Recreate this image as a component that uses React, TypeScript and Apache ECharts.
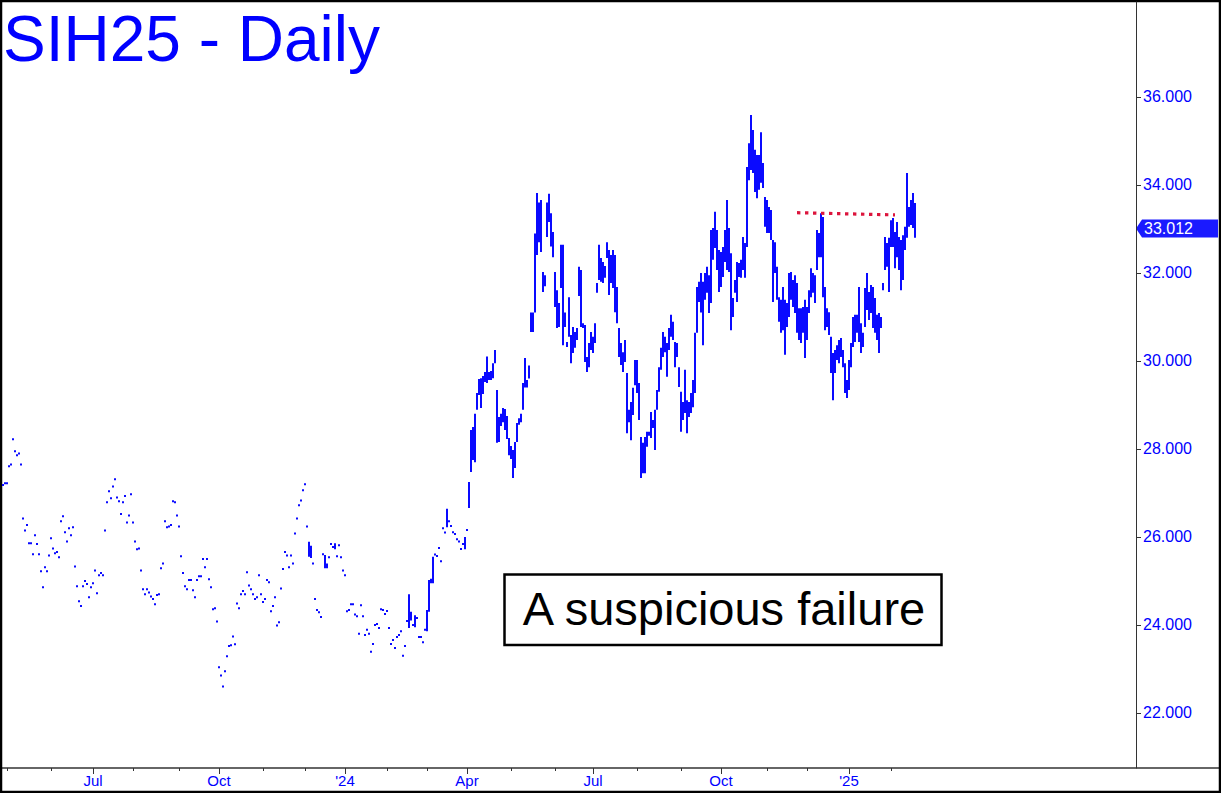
import React, { useEffect, useRef } from "react";
import * as echarts from "echarts";

// ---------- data ----------
const firstTradingDay = "2023-04-27";
const marketHolidays = [
  "2023-05-29", "2023-06-19", "2023-07-04", "2023-09-04", "2023-11-23", "2023-12-25",
  "2024-01-01", "2024-01-15", "2024-02-19", "2024-03-29", "2024-05-27", "2024-06-19",
  "2024-07-04", "2024-09-02", "2024-11-28", "2024-12-25", "2025-01-01", "2025-01-20",
  "2025-02-17", "2025-04-18", "2025-05-26", "2025-06-19", "2025-07-04",
];
const axisSlots = 567; // trading-day slots shown on the time axis (incl. empty future)

const highs = [
  27.18, 27.22, 27.22, 27.61, 27.65, 28.22, 27.95, 27.86, 27.90, 27.65,
  26.42, 26.15, 26.27, 25.86, 25.86, 25.61, 26.04, 25.84, 25.61, 25.22,
  24.86, 25.31, 25.22, 25.58, 25.97, 25.74, 25.63, 25.66, 25.54, 26.36,
  26.47, 26.11, 25.90, 26.20, 26.04, 26.22, 25.33, 24.88, 24.54, 24.43,
  24.88, 25.00, 24.93, 24.63, 24.86, 24.95, 25.24, 24.72, 25.13, 25.18,
  25.13, 26.15, 26.79, 27.04, 26.88, 27.15, 27.31, 26.90, 26.81, 26.52,
  26.79, 26.93, 26.33, 26.49, 26.97, 26.33, 25.90, 25.72, 25.74, 25.24,
  24.81, 24.70, 24.81, 24.74, 24.65, 24.59, 24.47, 24.68, 24.70, 25.29,
  25.40, 26.36, 26.22, 26.24, 26.27, 26.81, 26.79, 26.49, 26.24, 25.56,
  25.18, 24.88, 24.81, 25.02, 25.02, 24.79, 24.63, 25.02, 25.11, 25.11,
  25.50, 25.31, 25.50, 25.04, 24.86, 24.36, 24.38, 24.08, 23.04, 22.85,
  22.60, 22.95, 23.29, 23.52, 23.54, 23.74, 23.56, 24.49, 24.38, 24.70,
  24.77, 24.70, 25.20, 24.90, 24.81, 24.70, 24.59, 24.63, 25.13, 24.70,
  24.52, 24.59, 25.02, 24.97, 24.31, 24.43, 24.63, 23.99, 24.06, 24.83,
  25.27, 25.66, 25.58, 25.31, 25.58, 25.40, 26.08, 26.42, 26.72, 26.83,
  27.06, 27.20, 26.24, 25.89, 25.80, 25.40, 24.59, 24.34, 24.29, 24.18,
  25.61, 25.59, 25.40, 25.54, 25.84, 25.77, 25.86, 25.56, 25.81, 25.54,
  25.24, 25.13, 24.31, 24.34, 24.47, 24.47, 24.24, 24.20, 23.80, 24.45,
  24.20, 23.77, 23.89, 23.80, 23.39, 23.57, 24.00, 24.02, 23.93, 24.36,
  24.34, 24.25, 24.32, 23.93, 23.57, 23.66, 23.48, 23.73, 23.77, 23.86,
  23.30, 23.52, 24.09, 24.70, 24.30, 24.00, 24.22, 24.16, 23.73, 23.73,
  23.61, 23.89, 24.34, 25.02, 25.05, 25.55, 25.60, 25.57, 25.75, 25.45,
  26.20, 26.10, 26.64, 26.36, 26.25, 26.11, 26.07, 25.95, 25.90, 25.73,
  25.84, 26.00, 26.16, 27.25, 28.43, 28.50, 28.80, 29.27, 29.59, 29.61,
  29.66, 29.75, 30.10, 29.75, 29.77, 29.95, 30.25, 29.34, 28.73, 28.80,
  28.93, 28.91, 28.75, 28.25, 28.07, 27.98, 28.16, 28.59, 28.70, 28.80,
  29.50, 30.07, 29.57, 29.90, 31.10, 31.10, 32.90, 33.82, 33.60, 33.66,
  32.02, 31.95, 33.60, 33.80, 33.36, 32.93, 32.02, 31.61, 31.32, 32.64,
  32.64, 31.10, 30.43, 31.45, 30.59, 30.77, 30.66, 30.75, 32.14, 32.07,
  30.86, 30.82, 30.09, 30.41, 30.66, 30.55, 30.86, 31.77, 32.64, 32.34,
  32.25, 32.16, 32.70, 32.52, 32.41, 32.52, 32.41, 31.68, 30.75, 30.41,
  30.20, 30.48, 29.73, 28.89, 29.07, 29.39, 30.02, 30.02, 29.50, 28.27,
  28.14, 28.27, 28.39, 28.39, 28.84, 28.66, 28.89, 29.34, 29.86, 30.30,
  30.66, 30.55, 30.41, 30.75, 31.05, 30.89, 30.43, 30.41, 29.86, 29.30,
  29.07, 29.80, 29.11, 29.07, 29.27, 29.57, 30.64, 31.68, 31.80, 32.00,
  31.80, 32.00, 32.14, 31.95, 32.98, 33.02, 33.39, 32.98, 32.52, 32.48,
  32.59, 32.98, 33.66, 33.02, 32.45, 31.43, 31.84, 32.25, 32.23, 32.30,
  32.82, 32.68, 34.41, 34.95, 35.59, 35.25, 34.80, 34.68, 34.68, 35.20,
  34.50, 33.73, 33.66, 33.50, 33.43, 32.75, 32.70, 32.14, 31.45, 31.39,
  31.68, 31.39, 31.32, 32.00, 32.02, 31.84, 31.95, 31.77, 31.20, 31.20,
  31.23, 31.39, 31.23, 31.61, 32.11, 32.00, 31.95, 32.98, 32.91, 33.36,
  33.27, 31.68, 31.20, 31.11, 30.55, 30.18, 30.25, 30.36, 30.48, 30.52,
  30.25, 29.95, 29.57, 30.02, 30.41, 31.00, 31.05, 31.05, 31.68, 30.86,
  30.64, 31.66, 32.00, 31.57, 31.73, 31.68, 31.43, 31.05, 31.09, 31.00,
  31.77, 32.82, 32.68, 32.80, 33.20, 33.25, 32.93, 33.16, 32.82, 32.75,
  32.86, 33.05, 34.27, 33.50, 33.66, 33.82, 33.59,
];

const lows = [
  27.18, 27.22, 27.22, 27.61, 27.65, 28.22, 27.95, 27.86, 27.90, 27.65,
  26.42, 26.15, 26.27, 25.86, 25.86, 25.61, 26.04, 25.84, 25.61, 25.22,
  24.86, 25.31, 25.22, 25.58, 25.97, 25.74, 25.63, 25.66, 25.54, 26.36,
  26.47, 26.11, 25.90, 26.20, 26.04, 26.22, 25.33, 24.88, 24.54, 24.43,
  24.88, 25.00, 24.93, 24.63, 24.86, 24.95, 25.24, 24.72, 25.13, 25.18,
  25.13, 26.15, 26.79, 27.04, 26.88, 27.15, 27.31, 26.90, 26.81, 26.52,
  26.79, 26.93, 26.33, 26.49, 26.97, 26.33, 25.90, 25.72, 25.74, 25.24,
  24.81, 24.70, 24.81, 24.74, 24.65, 24.59, 24.47, 24.68, 24.70, 25.29,
  25.40, 26.36, 26.22, 26.24, 26.27, 26.81, 26.79, 26.49, 26.24, 25.56,
  25.18, 24.88, 24.81, 25.02, 25.02, 24.79, 24.63, 25.02, 25.11, 25.11,
  25.50, 25.31, 25.50, 25.04, 24.86, 24.36, 24.38, 24.08, 23.04, 22.85,
  22.60, 22.95, 23.29, 23.52, 23.54, 23.74, 23.56, 24.49, 24.38, 24.70,
  24.77, 24.70, 25.20, 24.90, 24.81, 24.70, 24.59, 24.63, 25.13, 24.70,
  24.52, 24.59, 25.02, 24.97, 24.31, 24.43, 24.63, 23.99, 24.06, 24.83,
  25.27, 25.66, 25.58, 25.31, 25.58, 25.40, 26.08, 26.42, 26.72, 26.83,
  27.06, 27.20, 26.24, 25.55, 25.52, 25.40, 24.59, 24.34, 24.29, 24.18,
  25.61, 25.29, 25.29, 25.54, 25.84, 25.77, 25.72, 25.56, 25.81, 25.54,
  25.24, 25.13, 24.31, 24.34, 24.47, 24.47, 24.24, 24.20, 23.80, 24.45,
  24.20, 23.77, 23.89, 23.80, 23.39, 23.57, 24.00, 24.02, 23.93, 24.36,
  24.34, 24.25, 24.32, 23.93, 23.57, 23.66, 23.48, 23.73, 23.77, 23.86,
  23.30, 23.52, 24.09, 23.93, 24.10, 24.00, 23.95, 24.16, 23.73, 23.73,
  23.61, 23.89, 23.86, 24.30, 24.95, 24.95, 25.60, 25.57, 25.75, 25.45,
  26.20, 26.10, 26.22, 26.36, 26.25, 26.11, 26.07, 25.95, 25.90, 25.73,
  25.84, 25.72, 26.16, 26.66, 27.48, 27.75, 27.70, 28.89, 29.23, 28.93,
  29.25, 29.52, 29.50, 29.57, 29.57, 29.61, 29.95, 28.14, 28.16, 28.52,
  28.61, 28.43, 28.23, 27.86, 27.77, 27.34, 27.57, 28.16, 28.55, 28.61,
  28.89, 29.40, 29.40, 29.60, 30.66, 30.66, 31.10, 32.41, 32.70, 32.48,
  31.57, 31.70, 32.82, 33.16, 32.60, 32.36, 31.23, 30.75, 30.77, 31.66,
  30.36, 30.77, 30.32, 30.55, 29.95, 30.18, 30.30, 30.48, 31.48, 30.77,
  30.75, 29.98, 29.75, 29.86, 30.25, 30.18, 30.41, 31.55, 31.84, 31.80,
  31.77, 31.89, 32.34, 31.50, 31.77, 31.66, 31.11, 30.86, 30.09, 29.91,
  29.75, 29.98, 28.36, 28.61, 28.20, 28.77, 29.45, 29.27, 28.66, 27.34,
  27.45, 27.45, 28.05, 28.30, 28.25, 28.48, 27.98, 28.89, 29.30, 29.80,
  30.09, 30.20, 29.64, 30.25, 30.55, 30.48, 29.86, 30.09, 29.41, 28.39,
  28.66, 28.82, 28.36, 28.73, 28.82, 28.95, 29.27, 30.64, 31.34, 31.10,
  30.36, 31.39, 31.55, 31.09, 31.32, 32.30, 32.57, 32.07, 31.57, 31.68,
  31.91, 32.25, 32.07, 32.02, 30.70, 31.00, 31.55, 31.34, 31.91, 31.89,
  32.07, 31.89, 32.59, 34.11, 34.34, 34.27, 33.84, 33.70, 33.89, 34.05,
  33.93, 33.05, 32.91, 32.91, 32.75, 31.34, 32.00, 31.39, 30.89, 30.64,
  30.70, 30.14, 30.77, 31.00, 31.39, 31.23, 31.09, 30.64, 30.48, 30.41,
  30.64, 30.07, 30.48, 31.09, 31.45, 31.55, 31.32, 32.07, 32.36, 32.36,
  31.45, 30.70, 30.77, 30.59, 29.73, 29.11, 29.73, 30.02, 29.95, 30.09,
  29.86, 29.27, 29.16, 29.34, 29.86, 30.32, 30.43, 30.64, 30.43, 30.18,
  30.32, 30.77, 31.16, 30.93, 31.09, 30.75, 30.64, 30.48, 30.18, 30.75,
  31.61, 32.07, 32.14, 31.57, 32.59, 32.59, 32.11, 32.36, 32.07, 31.61,
  31.84, 32.52, 32.80, 33.05, 33.09, 33.02, 32.80,
];

const lastPrice = 33.012;
const resistanceDates = ["2024-11-22", "2025-02-05"];
const resistanceValues = [33.37, 33.32];
const yTickValues = [22, 24, 26, 28, 30, 32, 34, 36];
const monthAbbr = ["Jan", "Feb", "Mar", "Apr", "May", "Jun", "Jul", "Aug", "Sep", "Oct", "Nov", "Dec"];
const titleText = "SIH25 - Daily";
const noteText = "A suspicious failure";

// ---------- helpers ----------
function buildTradingDays(start: string, count: number): string[] {
  const hol = new Set(marketHolidays);
  const out: string[] = [];
  const d = new Date(start + "T00:00:00Z");
  while (out.length < count) {
    const dow = d.getUTCDay();
    const iso = d.toISOString().slice(0, 10);
    if (dow !== 0 && dow !== 6 && !hol.has(iso)) out.push(iso);
    d.setUTCDate(d.getUTCDate() + 1);
  }
  return out;
}

const FONT = '"Liberation Sans", Arial, Helvetica, sans-serif';
const BLUE = "#0000ff";
const BAR = "#0a0aff";

export default function App() {
  const ref = useRef<HTMLDivElement | null>(null);

  useEffect(() => {
    if (!ref.current) return;
    const chart = echarts.init(ref.current, undefined, { renderer: "svg" });

    const dates = buildTradingDays(firstTradingDay, axisSlots);
    const monthStart = new Set<number>();
    const quarterStart = new Set<number>();
    for (let i = 1; i < highs.length; i++) {
      if (dates[i].slice(5, 7) !== dates[i - 1].slice(5, 7)) {
        monthStart.add(i);
        const m = parseInt(dates[i].slice(5, 7), 10) - 1;
        if (m % 3 === 0) quarterStart.add(i);
      }
    }
    const fmtLabel = (v: string) => {
      const m = parseInt(v.slice(5, 7), 10) - 1;
      return m === 0 ? "'" + v.slice(2, 4) : monthAbbr[m];
    };

    const barData = highs.map((h, i) => [i, h, lows[i]]);
    const resData = resistanceDates.map((d, k) => [dates.indexOf(d), resistanceValues[k]]);

    const option: any = {
      animation: false,
      backgroundColor: "#ffffff",
      grid: {
        left: 2,
        right: 85,
        top: 2,
        bottom: 25,
        containLabel: false,
        outerBoundsMode: "none",
      },
      xAxis: [
        {
          type: "category",
          position: "bottom",
          data: dates,
          boundaryGap: true,
          axisLine: { show: false },
          axisTick: {
            show: true,
            alignWithLabel: true,
            length: 3,
            interval: (idx: number) => monthStart.has(idx),
            lineStyle: { color: "#333", width: 1 },
          },
          axisLabel: { show: false },
          splitLine: { show: false },
        },
        {
          type: "category",
          position: "bottom",
          offset: 0,
          data: dates,
          boundaryGap: true,
          axisLine: { show: false },
          axisTick: {
            show: true,
            alignWithLabel: true,
            length: 6,
            interval: (idx: number) => quarterStart.has(idx),
            lineStyle: { color: "#333", width: 1 },
          },
          axisLabel: {
            show: true,
            interval: (idx: number) => quarterStart.has(idx),
            formatter: (v: string) => fmtLabel(v),
            color: BLUE,
            fontSize: 15,
            fontFamily: FONT,
            margin: 5,
          },
          splitLine: { show: false },
        },
      ],
      yAxis: {
        type: "value",
        position: "right",
        min: 20.75,
        max: 38.159,
        axisLine: { show: true, lineStyle: { color: "#333", width: 1 } },
        axisTick: {
          show: true,
          length: 5,
          inside: false,
          customValues: yTickValues,
          lineStyle: { color: "#333" },
        },
        axisLabel: {
          show: true,
          customValues: yTickValues,
          formatter: (v: number) => v.toFixed(3),
          color: BLUE,
          fontSize: 16,
          fontFamily: FONT,
          margin: 7,
        },
        splitLine: { show: false },
      },
      series: [
        {
          type: "custom",
          xAxisIndex: 0,
          yAxisIndex: 0,
          data: barData,
          encode: { x: 0, y: [1, 2] },
          clip: true,
          renderItem: (params: any, api: any) => {
            const idx = api.value(0);
            const pH = api.coord([idx, api.value(1)]);
            const pL = api.coord([idx, api.value(2)]);
            let top = Math.min(pH[1], pL[1]);
            let h = Math.abs(pL[1] - pH[1]);
            if (h < 2) {
              const c = (pH[1] + pL[1]) / 2;
              top = c - 1;
              h = 2;
            }
            return {
              type: "rect",
              shape: { x: pH[0] - 1, y: top, width: 2, height: h },
              style: { fill: BAR },
            };
          },
        },
        {
          type: "line",
          xAxisIndex: 0,
          yAxisIndex: 0,
          data: resData,
          symbol: "none",
          silent: true,
          z: 5,
          lineStyle: { color: "#dc143c", width: 3.2, type: [3.4, 4.6], cap: "butt" },
        },
      ],
    };

    chart.setOption(option);

    const yPrice = chart.convertToPixel({ yAxisIndex: 0 }, lastPrice) as number;
    const axisX = 1221 - 85;

    chart.setOption({
      graphic: [
        {
          type: "line",
          shape: { x1: 0, y1: 768, x2: 1221, y2: 768 },
          style: { stroke: "#333", lineWidth: 1.5 },
          silent: true,
        },
        {
          type: "text",
          x: 3,
          y: 38.5,
          style: {
            text: titleText,
            fill: BLUE,
            fontSize: 64,
            fontFamily: FONT,
            align: "left",
            verticalAlign: "middle",
          },
        },
        {
          type: "rect",
          shape: { x: 504.5, y: 574.5, width: 437, height: 70.5 },
          style: { fill: "#ffffff", stroke: "#000", lineWidth: 2.5 },
        },
        {
          type: "text",
          x: 724,
          y: 608,
          style: {
            text: noteText,
            fill: "#000",
            fontSize: 47,
            fontFamily: FONT,
            align: "center",
            verticalAlign: "middle",
          },
        },
        {
          type: "polygon",
          shape: {
            points: [
              [axisX, yPrice],
              [axisX + 6, yPrice - 9],
              [axisX + 82, yPrice - 9],
              [axisX + 82, yPrice + 9],
              [axisX + 6, yPrice + 9],
            ],
          },
          style: { fill: "#1a1aff" },
        },
        {
          type: "text",
          x: axisX + 8,
          y: yPrice,
          style: {
            text: lastPrice.toFixed(3),
            fill: "#ffffff",
            fontSize: 16,
            fontFamily: FONT,
            align: "left",
            verticalAlign: "middle",
          },
        },
        {
          type: "rect",
          shape: { x: 1, y: 1, width: 1219, height: 791 },
          style: { fill: "none", stroke: "#000", lineWidth: 2.5 },
          silent: true,
        },
      ],
    });

    return () => {
      chart.dispose();
    };
  }, []);

  return (
    <div
      ref={ref}
      style={{ position: "fixed", left: 0, top: 0, width: 1221, height: 793, background: "#fff" }}
    />
  );
}
